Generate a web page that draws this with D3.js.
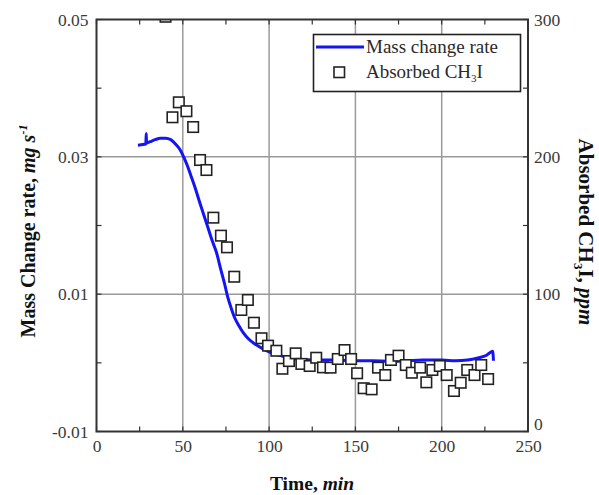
<!DOCTYPE html>
<html>
<head>
<meta charset="utf-8">
<script src="https://cdn.jsdelivr.net/npm/d3@7"></script>
<style>
  body { margin: 0; background: #fff; }
  svg text { font-family: "Liberation Serif", "Times New Roman", serif; }
</style>
</head>
<body>
<svg id="chart" width="599" height="495"></svg>
<script>
// mass change rate curve (time min, rate mg/s)
const rateTime = [24, 27, 28.6, 28.8, 29, 31, 34, 37, 40, 43, 46, 48.5, 50.5, 52.5, 54.5, 57, 60, 63.8, 67, 69.6, 72, 74.4, 76, 78, 80, 82.5, 85, 88, 92, 96, 100, 106, 112, 120, 131, 140, 150, 160, 170, 180, 189, 200, 208, 215, 221, 226, 229.5, 230]
const rateValue = [0.0317, 0.0318, 0.0319, 0.0334, 0.0320, 0.0322, 0.0325, 0.0327, 0.0327, 0.0325, 0.0318, 0.0310, 0.0300, 0.0288, 0.0274, 0.0256, 0.0232, 0.0203, 0.0178, 0.0160, 0.0136, 0.0113, 0.0096, 0.0080, 0.0066, 0.0054, 0.0044, 0.0035, 0.0027, 0.0021, 0.0016, 0.0011, 0.0007, 0.0005, 0.0004, 0.0004, 0.0003, 0.0003, 0.0002, 0.0003, 0.0004, 0.0004, 0.0003, 0.0004, 0.0007, 0.0011, 0.0017, 0.0003]

// absorbed CH3I points (time min, ppm)
const absTime = [40, 44.0, 47.7, 52.1, 56.0, 60.0, 63.7, 67.7, 72.1, 75.6, 79.8, 83.9, 87.7, 91.2, 95.6, 99.4, 104.2, 107.7, 111.5, 115.4, 118.7, 123.5, 127.3, 131.2, 135.6, 139.8, 143.7, 147.5, 151.0, 154.8, 159.4, 163.1, 167.3, 170.6, 175.0, 179.2, 182.7, 187.5, 191.1, 194.6, 198.9, 202.9, 207.1, 211.0, 214.8, 219.0, 222.9, 226.9]
const absPpm = [302, 228.8, 239.7, 233.2, 221.7, 197.7, 190.4, 155.7, 142.6, 134.1, 112.7, 88.5, 95.8, 79.2, 67.9, 62.5, 58.8, 45.7, 51.3, 56.9, 49.2, 47.7, 53.7, 46.7, 46.5, 52.8, 59.3, 52.8, 42.4, 31.5, 30.7, 46.5, 41.1, 52.1, 55.2, 48.4, 42.8, 46.5, 35.8, 44.8, 47.7, 41.1, 29.5, 35.5, 44.8, 41.1, 48.4, 38.2]

const xTicks = [0, 50, 100, 150, 200, 250]
const rateTicks = [-0.01, 0.01, 0.03, 0.05]
const ppmTicks = [0, 100, 200, 300]

const svg = d3.select('#chart')
const plotL = 96.5, plotR = 528, plotT = 19.5, plotB = 431.5

const x = d3.scaleLinear().domain([0, 250]).range([plotL, plotR])
const yRate = d3.scaleLinear().domain([-0.01, 0.05]).range([plotB, plotT])
const yPpm = d3.scaleLinear().domain([0, 300]).range([plotB, plotT])

const gridColor = '#9a9a9a'
const frameColor = '#333'
const labelColor = '#3a3a3a'

// grid
svg.append('g')
    .selectAll('line')
    .data([50, 100, 150, 200])
    .join('line')
    .attr('x1', d => x(d)).attr('x2', d => x(d))
    .attr('y1', plotT).attr('y2', plotB)
    .attr('stroke', gridColor).attr('stroke-width', 1.5)

svg.append('g')
    .selectAll('line')
    .data([0.01, 0.03])
    .join('line')
    .attr('x1', plotL).attr('x2', plotR)
    .attr('y1', d => yRate(d)).attr('y2', d => yRate(d))
    .attr('stroke', gridColor).attr('stroke-width', 1.5)

// inward ticks
const tickLen = 5
const minorX = d3.range(0, 251, 25)
svg.append('g').selectAll('line').data(minorX).join('line')
    .attr('x1', d => x(d)).attr('x2', d => x(d))
    .attr('y1', plotB).attr('y2', plotB - tickLen)
    .attr('stroke', frameColor).attr('stroke-width', 1.2)
svg.append('g').selectAll('line').data(minorX).join('line')
    .attr('x1', d => x(d)).attr('x2', d => x(d))
    .attr('y1', plotT).attr('y2', plotT + tickLen)
    .attr('stroke', frameColor).attr('stroke-width', 1.2)
svg.append('g').selectAll('line').data(d3.range(-0.01, 0.051, 0.01)).join('line')
    .attr('x1', plotL).attr('x2', plotL + tickLen)
    .attr('y1', d => yRate(d)).attr('y2', d => yRate(d))
    .attr('stroke', frameColor).attr('stroke-width', 1.2)
svg.append('g').selectAll('line').data(d3.range(0, 301, 50)).join('line')
    .attr('x1', plotR).attr('x2', plotR - tickLen)
    .attr('y1', d => yPpm(d)).attr('y2', d => yPpm(d))
    .attr('stroke', frameColor).attr('stroke-width', 1.2)

// axes labels via d3 axes
const styleAxis = g => {
    g.select('.domain').remove()
    g.selectAll('.tick line').remove()
    g.selectAll('text')
        .attr('font-size', 17.5)
        .attr('fill', labelColor)
        .style('font-family', '"Liberation Serif", serif')
}

svg.append('g')
    .attr('transform', `translate(0,${plotB})`)
    .call(d3.axisBottom(x).tickValues(xTicks).tickSize(0).tickPadding(8))
    .call(styleAxis)

svg.append('g')
    .attr('transform', `translate(${plotL},0)`)
    .call(d3.axisLeft(yRate).tickValues(rateTicks).tickFormat(d => d3.format('.2f')(d).replace('−', '-')).tickSize(0).tickPadding(8))
    .call(styleAxis)

svg.append('g')
    .attr('transform', `translate(${plotR},0)`)
    .call(d3.axisRight(yPpm).tickValues(ppmTicks).tickSize(0).tickPadding(6))
    .call(styleAxis)
    .call(g => g.selectAll('.tick').filter(d => d === 0).select('text').attr('dy', '-0.1em'))

// clip
svg.append('clipPath').attr('id', 'plotClip')
    .append('rect')
    .attr('x', plotL).attr('y', plotT)
    .attr('width', plotR - plotL).attr('height', plotB - plotT)

const plot = svg.append('g').attr('clip-path', 'url(#plotClip)')

// line
const rateData = rateTime.map((t, i) => ({t, v: rateValue[i]}))
plot.append('path')
    .datum(rateData)
    .attr('fill', 'none')
    .attr('stroke', '#1414f5')
    .attr('stroke-width', 3)
    .attr('stroke-linejoin', 'round')
    .attr('d', d3.line().x(d => x(d.t)).y(d => yRate(d.v)).curve(d3.curveMonotoneX))

// squares
const sq = 10.5
const absData = absTime.map((t, i) => ({t, v: absPpm[i]}))
plot.append('g')
    .selectAll('rect')
    .data(absData)
    .join('rect')
    .attr('x', d => x(d.t) - sq / 2)
    .attr('y', d => yPpm(d.v) - sq / 2)
    .attr('width', sq).attr('height', sq)
    .attr('fill', '#fff')
    .attr('stroke', '#222')
    .attr('stroke-width', 1.6)

// frame
svg.append('rect')
    .attr('x', plotL).attr('y', plotT)
    .attr('width', plotR - plotL).attr('height', plotB - plotT)
    .attr('fill', 'none')
    .attr('stroke', frameColor).attr('stroke-width', 2)

// legend
const legend = svg.append('g')
legend.append('rect')
    .attr('x', 313.5).attr('y', 34.5).attr('width', 207).attr('height', 57)
    .attr('fill', '#fff').attr('stroke', '#222').attr('stroke-width', 1.6)
legend.append('line')
    .attr('x1', 316).attr('x2', 364).attr('y1', 47).attr('y2', 47)
    .attr('stroke', '#1414f5').attr('stroke-width', 3)
legend.append('rect')
    .attr('x', 334).attr('y', 67).attr('width', sq).attr('height', sq)
    .attr('fill', '#fff').attr('stroke', '#222').attr('stroke-width', 1.6)
legend.append('text')
    .attr('x', 366).attr('y', 53)
    .attr('font-size', 19).attr('fill', '#2a2a2a')
    .text('Mass change rate')
const leg2 = legend.append('text')
    .attr('x', 366).attr('y', 78)
    .attr('font-size', 19).attr('fill', '#2a2a2a')
leg2.append('tspan').text('Absorbed CH')
leg2.append('tspan').attr('font-size', 11).attr('dy', 4).text('3')
leg2.append('tspan').attr('dy', -4).text('I')

// axis titles
const xTitle = svg.append('text')
    .attr('x', 312).attr('y', 490)
    .attr('text-anchor', 'middle')
    .attr('font-size', 19.5).attr('font-weight', 'bold').attr('fill', '#111')
xTitle.append('tspan').text('Time, ')
xTitle.append('tspan').attr('font-style', 'italic').text('min')

const yTitle = svg.append('text')
    .attr('transform', 'translate(35,231) rotate(-90)')
    .attr('text-anchor', 'middle')
    .attr('font-size', 20).attr('font-weight', 'bold').attr('fill', '#111')
yTitle.append('tspan').text('Mass Change rate, ')
yTitle.append('tspan').attr('font-style', 'italic').text('mg s')
yTitle.append('tspan').attr('font-style', 'italic').attr('font-size', 12).attr('dy', -8).text('-1')

const y2Title = svg.append('text')
    .attr('transform', 'translate(579,232) rotate(90)')
    .attr('text-anchor', 'middle')
    .attr('font-size', 21).attr('font-weight', 'bold').attr('fill', '#111')
y2Title.append('tspan').text('Absorbed CH')
y2Title.append('tspan').attr('font-size', 13).attr('dy', 5).text('3')
y2Title.append('tspan').attr('dy', -5).text('I, ')
y2Title.append('tspan').attr('font-style', 'italic').text('ppm')
</script>
</body>
</html>
